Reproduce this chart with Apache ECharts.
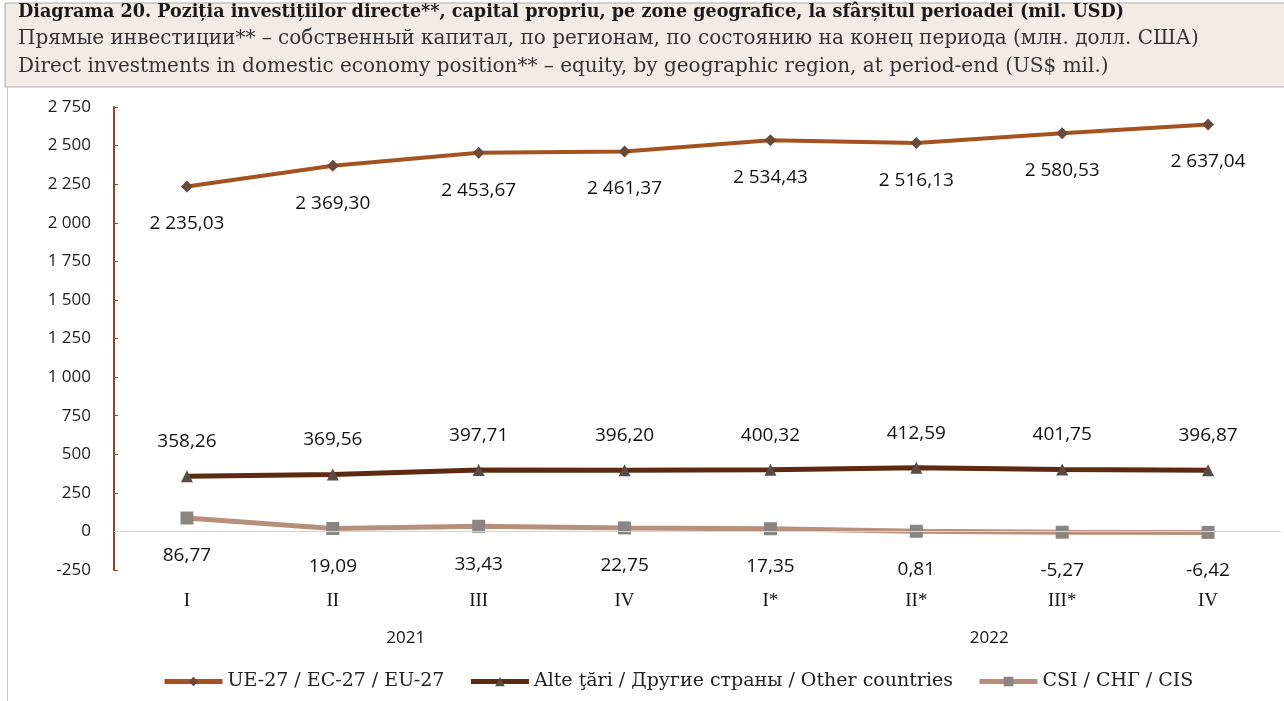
<!DOCTYPE html>
<html>
<head>
<meta charset="utf-8">
<script src="https://cdn.jsdelivr.net/npm/echarts@6/dist/echarts.min.js"></script>
<style>
  html, body { margin: 0; padding: 0; background: #fff; }
  #chart { width: 1284px; height: 701px; }
</style>
</head>
<body>
<div id="chart"></div>
<script>
// categories (quarters) and year labels
const quarters = ['I', 'II', 'III', 'IV', 'I*', 'II*', 'III*', 'IV'];
const yearLabels = { 2: '2021', 6: '2022' };
const seriesNames = ['UE-27 / EC-27 / EU-27', 'Alte ţări / Другие страны / Other countries', 'CSI / СНГ / CIS'];

const euValues = [2235.03, 2369.30, 2453.67, 2461.37, 2534.43, 2516.13, 2580.53, 2637.04];
const otherValues = [358.26, 369.56, 397.71, 396.20, 400.32, 412.59, 401.75, 396.87];
const cisValues = [86.77, 19.09, 33.43, 22.75, 17.35, 0.81, -5.27, -6.42];

const titleLines = [
  'Diagrama 20. Poziția investițiilor directe**, capital propriu, pe zone geografice, la sfârșitul perioadei (mil. USD)',
  'Прямые инвестиции** – собственный капитал, по регионам, по состоянию на конец периода (млн. долл. США)',
  'Direct investments in domestic economy position** – equity, by geographic region, at period-end (US$ mil.)'
];

// 2 235,03 style
function fmt(v, dec) {
  const neg = v < 0;
  let s = Math.abs(v).toFixed(dec);
  let [int, frac] = s.split('.');
  int = int.replace(/\B(?=(\d{3})+(?!\d))/g, ' ');
  return (neg ? '-' : '') + int + (frac ? ',' + frac : '');
}

const chart = echarts.init(document.getElementById('chart'));
const labelFont = { fontFamily: 'Open Sans', fontSize: 19, color: '#111' };

const option = {
  animation: false,
  backgroundColor: '#fff',
  graphic: [
    { type: 'rect', shape: { x: 5, y: 3, width: 1290, height: 84 }, style: { fill: '#f3ece4', stroke: '#a9a9a9', lineWidth: 1 } },
    { type: 'line', shape: { x1: 7.5, y1: 87, x2: 7.5, y2: 701 }, style: { stroke: '#c8c8c8', lineWidth: 1 } },
    { type: 'text', left: 18, top: 3, style: { text: titleLines[0], font: 'bold 17.6px "DejaVu Serif"', fill: '#1a1a1a' } },
    { type: 'text', left: 18, top: 29, style: { text: titleLines[1], font: '20px "DejaVu Serif"', fill: '#333' } },
    { type: 'text', left: 18, top: 57, style: { text: titleLines[2], font: '20px "DejaVu Serif"', fill: '#333' } }
  ],
  grid: { left: 114, right: 2, top: 107, bottom: 131 },
  legend: {
    bottom: 5,
    left: 157,
    itemWidth: 58,
    itemHeight: 12,
    itemGap: 24,
    lineStyle: { width: 5 },
    textStyle: { fontFamily: 'DejaVu Serif', fontSize: 19, color: '#222' },
    data: seriesNames
  },
  xAxis: [
    {
      type: 'category',
      data: quarters,
      boundaryGap: true,
      axisLine: { show: false },
      axisTick: { show: false },
      axisLabel: { margin: 22, fontFamily: 'Liberation Serif', fontSize: 19, color: '#111' }
    },
    {
      type: 'value',
      min: 0, max: 8, interval: 1,
      position: 'bottom',
      offset: 48,
      axisLine: { show: false },
      axisTick: { show: false },
      splitLine: { show: false },
      axisLabel: {
        margin: 12,
        fontFamily: 'Open Sans', fontSize: 17, color: '#111',
        formatter: v => yearLabels[v] || ''
      }
    }
  ],
  yAxis: {
    type: 'value',
    min: -250, max: 2750, interval: 250,
    axisLine: { show: true, lineStyle: { color: '#8b4a2b', width: 2 } },
    axisTick: { show: true, inside: true, length: 4, lineStyle: { color: '#8b4a2b' } },
    splitLine: { show: false },
    axisLabel: { margin: 23, fontFamily: 'Open Sans', fontSize: 17, color: '#222', formatter: v => fmt(v, 0) }
  },
  series: [
    {
      name: seriesNames[0],
      type: 'line',
      data: euValues,
      symbol: 'diamond',
      symbolSize: 12,
      lineStyle: { color: '#a4521f', width: 4 },
      itemStyle: { color: '#6b4a3c' },
      label: { show: true, position: 'bottom', distance: 22, ...labelFont, formatter: p => fmt(p.value, 2) },
      markLine: {
        silent: true, symbol: 'none', label: { show: false },
        lineStyle: { color: '#d6d6d6', width: 1, type: 'solid' },
        data: [{ yAxis: 0 }]
      },
      z: 3
    },
    {
      name: seriesNames[1],
      type: 'line',
      data: otherValues,
      symbol: 'triangle',
      symbolSize: 12,
      lineStyle: { color: '#5b2a10', width: 5 },
      itemStyle: { color: '#5b4a44' },
      label: { show: true, position: 'top', distance: 19, ...labelFont, formatter: p => fmt(p.value, 2) },
      z: 3
    },
    {
      name: seriesNames[2],
      type: 'line',
      data: cisValues,
      symbol: 'rect',
      symbolSize: 13,
      lineStyle: { color: '#b88f7b', width: 5 },
      itemStyle: { color: '#8c8480' },
      label: { show: true, position: 'bottom', distance: 22, ...labelFont, formatter: p => fmt(p.value, 2) },
      z: 3
    }
  ]
};
chart.setOption(option);
window.addEventListener('resize', () => chart.resize());
</script>
</body>
</html>
